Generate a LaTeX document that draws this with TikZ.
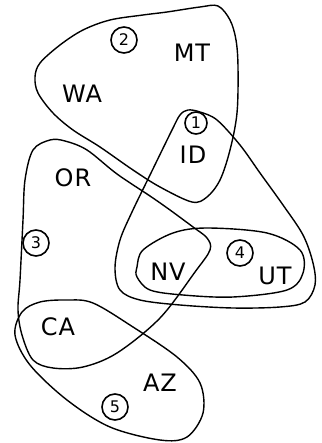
\documentclass[tikz,border=0pt]{standalone}
\usepackage{fontspec}
\usepackage{tikz}
\usetikzlibrary{calc}

\newfontfamily\handfont[LetterSpace=4]{DejaVu Sans}

\tikzset{
  edgeline/.style={line width=1.4pt, black, line join=round},
  state/.style={font=\handfont\fontsize{24}{26}\selectfont, inner sep=0pt},
  edgenum/.style={circle, draw, line width=1.6pt, minimum size=26pt, inner sep=0pt,
    font=\handfont\fontsize{16}{17}\selectfont}
}

\begin{document}
\begin{tikzpicture}[x=1pt, y=-1pt]

\useasboundingbox (0,0) rectangle (321,443);

% ---------------- 1. HYPEREDGES ----------------
% edge 2: WA, MT, ID
\draw[edgeline] plot[smooth cycle, tension=0.55] coordinates {
  (218,6) (200,7) (167,12) (143,15) (110,20) (83,30) (60,45) (40,63) (35,77)
  (38,93) (53,113) (73,130) (100,147) (133,170) (160,187) (192,202) (207,197)
  (220,180) (230,150) (237,113) (238,67) (236,40) (230,20)};

% edge 1: ID, NV, UT
\draw[edgeline] plot[smooth cycle, tension=0.55] coordinates {
  (188,110) (200,112) (217,120) (240,145) (260,173) (283,205) (303,235)
  (313,263) (315,285) (305,302) (280,307) (233,308) (180,305) (140,300)
  (120,290) (115,268) (120,240) (132,212) (150,175) (172,130) (180,115)};

% edge 3: OR, CA, NV
\draw[edgeline] plot[smooth cycle, tension=0.55] coordinates {
  (50,140) (33,150) (25,180) (23,220) (20,280) (18,310) (22,335) (33,360)
  (53,368) (83,367) (117,353) (160,318) (195,272) (210,250) (207,238)
  (193,227) (170,210) (150,196) (117,174) (87,150) (65,141)};

% edge 4: NV, UT
\draw[edgeline] plot[smooth cycle, tension=0.55] coordinates {
  (137,267) (143,250) (173,233) (207,228) (267,233) (300,250) (303,273)
  (287,290) (233,297) (183,295) (150,290) (137,277)};

% edge 5: CA, AZ
\draw[edgeline] plot[smooth cycle, tension=0.55] coordinates {
  (67,300) (93,303) (133,327) (177,357) (200,383) (203,413) (187,437)
  (160,440) (110,427) (67,400) (30,365) (15,335) (22,312) (40,302)};

% ---------------- 2. STATES ----------------
\node[state] (WA) at (82,94)  {WA};
\node[state] (MT) at (192,53) {MT};
\node[state] (ID) at (193,155) {ID};
\node[state] (OR) at (73,178) {OR};
\node[state] (NV) at (168,272) {NV};
\node[state] (UT) at (275,276) {UT};
\node[state] (CA) at (58,327) {CA};
\node[state] (AZ) at (160,383) {AZ};

% ---------------- 3. EDGE NUMBERS ----------------
\node[edgenum, minimum size=22pt] (n1) at (196,123) {1};
\node[edgenum] (n2) at (124,40)  {2};
\node[edgenum] (n3) at (36,243)  {3};
\node[edgenum] (n4) at (240,253) {4};
\node[edgenum] (n5) at (115,407) {5};

\end{tikzpicture}
\end{document}
